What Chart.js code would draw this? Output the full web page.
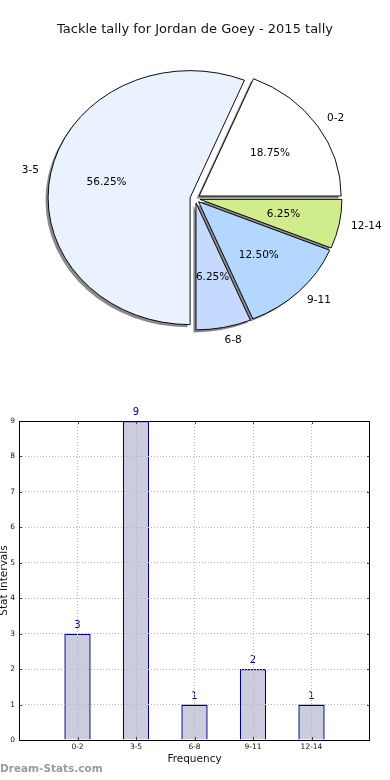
<!DOCTYPE html>
<html><head><meta charset="utf-8">
<script src="https://cdn.jsdelivr.net/npm/chart.js@4"></script>
<style>
html,body{margin:0;padding:0;background:#fff;width:390px;height:780px;overflow:hidden;}
#pie{position:absolute;left:0;top:0;}
#bar{position:absolute;left:0;top:380px;}
#wm{position:absolute;left:0;top:762px;font:bold 10.5px "DejaVu Sans";color:#9a9a9a;white-space:nowrap;}
</style></head><body>
<canvas id="pie" width="390" height="380" style="width:390px;height:380px"></canvas>
<canvas id="bar" width="390" height="400" style="width:390px;height:400px"></canvas>
<div id="wm">Dream-Stats.com</div>
<script>
// ---- data ----
const chartTitle = 'Tackle tally for Jordan de Goey - 2015 tally';
const categories = ['0-2', '3-5', '6-8', '9-11', '12-14'];
const counts = [3, 9, 1, 2, 1];
const yTickValues = [0, 1, 2, 3, 4, 5, 6, 7, 8, 9];
const xAxisTitle = 'Frequency';
const yAxisTitle = 'Stat Intervals';

// ---- styles ----
const FONT = '"DejaVu Sans", Verdana, sans-serif';
const sliceColors = ['#ffffff', '#eaf1ff', '#c6d9ff', '#b4d7ff', '#d0ec8c'];
const K = 127 / 142;      // vertical squash (ellipse)
const EXPLODE = 5;
const SHADOW_DX = -2.6, SHADOW_DY = 2.6;

Chart.defaults.font.family = FONT;

const total = counts.reduce((a, b) => a + b, 0);
// matplotlib draws counter-clockwise from east; Chart.js draws clockwise -> reverse order
const order = categories.map((_, i) => i).reverse();
const pieLabels = order.map(i => categories[i]);
const pieValues = order.map(i => counts[i]);
const pieColors = order.map(i => sliceColors[i]);

function squash(ctx, cx, cy) {
  ctx.translate(cx, cy); ctx.scale(1, K); ctx.translate(-cx, -cy);
}

const pieFx = {
  id: 'pieFx',
  beforeDatasetsDraw(chart) {
    const ctx = chart.ctx;
    const arcs = chart.getDatasetMeta(0).data;
    if (!arcs.length) return false;
    const cx = arcs[0].x, cy = arcs[0].y;
    // shadows
    ctx.save();
    ctx.translate(SHADOW_DX, SHADOW_DY);
    squash(ctx, cx, cy);
    arcs.forEach(a => {
      const m = (a.startAngle + a.endAngle) / 2;
      const ox = a.x + Math.cos(m) * EXPLODE, oy = a.y + Math.sin(m) * EXPLODE;
      ctx.beginPath();
      ctx.moveTo(ox, oy);
      ctx.arc(ox, oy, a.outerRadius, a.startAngle, a.endAngle);
      ctx.closePath();
      ctx.fillStyle = 'rgba(40,40,45,0.55)';
      ctx.fill();
    });
    ctx.restore();
    // wedges
    ctx.save();
    squash(ctx, cx, cy);
    arcs.forEach(a => {
      const m = (a.startAngle + a.endAngle) / 2;
      ctx.save();
      ctx.translate(Math.cos(m) * EXPLODE, Math.sin(m) * EXPLODE);
      a.draw(ctx);
      ctx.restore();
    });
    ctx.restore();
    return false;
  },
  afterDraw(chart) {
    const ctx = chart.ctx;
    const arcs = chart.getDatasetMeta(0).data;
    ctx.save();
    ctx.fillStyle = '#000';
    ctx.font = '10.5px ' + FONT;
    ctx.textBaseline = 'middle';
    arcs.forEach((a, i) => {
      const m = (a.startAngle + a.endAngle) / 2;
      const c = Math.cos(m), s = Math.sin(m);
      const R = a.outerRadius;
      const lr = EXPLODE + 1.1 * R;
      ctx.textAlign = c > 0 ? 'left' : 'right';
      ctx.fillText(pieLabels[i], a.x + lr * c - 2 * Math.sign(c), a.y + lr * s * K);
      const pr = EXPLODE + 0.6 * R;
      ctx.textAlign = 'center';
      const pct = (pieValues[i] / total * 100).toFixed(2) + '%';
      ctx.fillText(pct, a.x + pr * c, a.y + pr * s * K);
    });
    ctx.restore();
  }
};

new Chart(document.getElementById('pie'), {
  type: 'pie',
  data: {
    labels: pieLabels,
    datasets: [{
      data: pieValues,
      backgroundColor: pieColors,
      borderColor: '#000',
      borderWidth: 1,
      hoverOffset: 0
    }]
  },
  options: {
    responsive: false,
    animation: false,
    events: [],
    rotation: 90,
    radius: 142,
    layout: { padding: { top: 0, bottom: 30.6, left: 0, right: 0 } },
    plugins: {
      legend: { display: false },
      tooltip: { enabled: false },
      title: {
        display: true,
        text: chartTitle,
        color: '#111',
        font: { size: 13, weight: 'normal', family: FONT },
        padding: { top: 22, bottom: 10 }
      }
    }
  },
  plugins: [pieFx]
});

// ---- bar chart ----
const barLabels = ['', ...categories, ''];
const barValues = [null, ...counts, null];

const barFx = {
  id: 'barFx',
  afterDatasetsDraw(chart) {
    const ctx = chart.ctx;
    const bars = chart.getDatasetMeta(0).data;
    ctx.save();
    ctx.fillStyle = '#000080';
    ctx.font = '10px ' + FONT;
    ctx.textAlign = 'center';
    ctx.textBaseline = 'middle';
    bars.forEach((b, i) => {
      const v = barValues[i];
      if (v === null || v === undefined) return;
      ctx.fillText(String(v), b.x, b.y - 8.5);
    });
    ctx.restore();
  },
  afterDraw(chart) {
    const ctx = chart.ctx;
    const a = chart.chartArea;
    const xs = chart.scales.x, ys = chart.scales.y;
    ctx.save();
    ctx.strokeStyle = '#444';
    ctx.lineWidth = 1;
    ctx.beginPath();
    // inner ticks
    categories.forEach((c, i) => {
      const px = Math.round(xs.getPixelForValue(i + 1)) + 0.5;
      ctx.moveTo(px, a.bottom); ctx.lineTo(px, a.bottom - 3);
      ctx.moveTo(px, a.top); ctx.lineTo(px, a.top + 3);
    });
    yTickValues.forEach(v => {
      const py = Math.round(ys.getPixelForValue(v)) + 0.5;
      ctx.moveTo(a.left, py); ctx.lineTo(a.left + 3, py);
      ctx.moveTo(a.right, py); ctx.lineTo(a.right - 3, py);
    });
    ctx.stroke();
    ctx.strokeStyle = '#000';
    ctx.strokeRect(Math.round(a.left) + 0.5, Math.round(a.top) + 0.5,
      Math.round(a.right - a.left) - 1, Math.round(a.bottom - a.top));
    ctx.restore();
  }
};

new Chart(document.getElementById('bar'), {
  type: 'bar',
  data: {
    labels: barLabels,
    datasets: [{
      data: barValues,
      backgroundColor: '#ccccdf',
      borderColor: '#000080',
      borderWidth: 1.4,
      barPercentage: 0.45,
      categoryPercentage: 1
    }]
  },
  options: {
    responsive: false,
    animation: false,
    events: [],
    layout: { padding: { top: 41, right: 20, left: 0, bottom: 0 } },
    plugins: { legend: { display: false }, tooltip: { enabled: false } },
    scales: {
      x: {
        offset: false,
        grid: {
          offset: false,
          drawTicks: false,
          z: 1,
          lineWidth: 1,
          color: c => (c.index === 0 || c.index === barLabels.length - 1) ? 'rgba(0,0,0,0)' : '#b5b5b5'
        },
        border: { display: false, dash: [1, 2] },
        ticks: { font: { size: 7.5, family: FONT }, color: '#111', padding: 3, autoSkip: false, maxRotation: 0 },
        title: { display: true, text: xAxisTitle, color: '#111', font: { size: 10.5, family: FONT }, padding: { top: 0, bottom: 14 } },
        afterFit(s) { s.height = 40; }
      },
      y: {
        min: 0,
        max: 9,
        afterBuildTicks(s) { s.ticks = yTickValues.map(v => ({ value: v })); },
        grid: {
          drawTicks: false,
          z: 1,
          lineWidth: 1,
          color: c => (c.tick && (c.tick.value === 0 || c.tick.value === 9)) ? 'rgba(0,0,0,0)' : '#b5b5b5'
        },
        border: { display: false, dash: [1, 2] },
        ticks: { font: { size: 7.5, family: FONT }, color: '#111', padding: 4 },
        title: { display: true, text: yAxisTitle, color: '#111', font: { size: 10.5, family: FONT }, padding: { top: -2, bottom: 0 } },
        afterFit(s) { s.width = 19; }
      }
    }
  },
  plugins: [barFx]
});
</script>
</body></html>
